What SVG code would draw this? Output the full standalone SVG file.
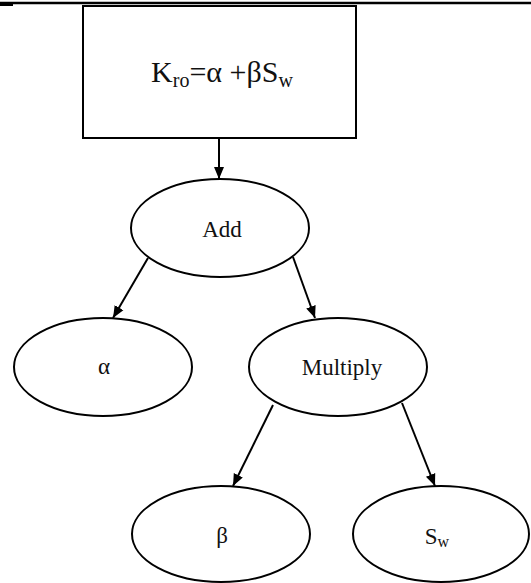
<svg xmlns="http://www.w3.org/2000/svg" width="531" height="583" viewBox="0 0 531 583">
<style>
.n{fill:#fff;stroke:#000;stroke-width:2}
.t{font-family:"Liberation Serif","Times New Roman",serif;font-size:23px;fill:#111;text-anchor:middle}
.c line{stroke:#000;stroke-width:2;marker-end:url(#ah)}
</style>
<defs>
<marker id="ah" viewBox="0 0 12 12" refX="12" refY="6" markerWidth="12" markerHeight="12" markerUnits="userSpaceOnUse" orient="auto">
<path d="M0,1 L12,6 L0,11 Z" fill="#000"/>
</marker>
</defs>
<rect width="531" height="583" fill="#fff"/>
<line x1="0" y1="3" x2="531" y2="3" stroke="#000" stroke-width="2.5"/>
<rect x="0" y="3" width="13" height="3" fill="#000"/>
<g id="formula">
<rect class="n" x="83" y="6" width="273" height="132"/>
<text class="t" x="222" y="82" style="font-size:30px">K<tspan font-size="20" dy="5">ro</tspan><tspan dy="-5">=α +βS</tspan><tspan font-size="20" dy="5">w</tspan></text>
</g>
<g id="add">
<ellipse class="n" cx="220" cy="228" rx="89" ry="49"/>
<text class="t" x="222" y="237">Add</text>
</g>
<g id="alpha">
<ellipse class="n" cx="103" cy="367" rx="89" ry="49"/>
<text class="t" x="104" y="374">α</text>
</g>
<g id="multiply">
<ellipse class="n" cx="338" cy="367" rx="89" ry="49"/>
<text class="t" x="342" y="375">Multiply</text>
</g>
<g id="beta">
<ellipse class="n" cx="221" cy="534" rx="89" ry="48"/>
<text class="t" x="222" y="543">β</text>
</g>
<g id="sw">
<ellipse class="n" cx="441" cy="534" rx="88" ry="48"/>
<text class="t" x="437" y="544">S<tspan font-size="16" dy="3">w</tspan></text>
</g>
<g class="c" id="connectors">
<line x1="219" y1="139" x2="219" y2="179"/>
<line x1="148" y1="258" x2="113" y2="318"/>
<line x1="293" y1="257" x2="315" y2="318"/>
<line x1="273" y1="405" x2="233" y2="486"/>
<line x1="402" y1="403" x2="435" y2="486"/>
</g>
</svg>
